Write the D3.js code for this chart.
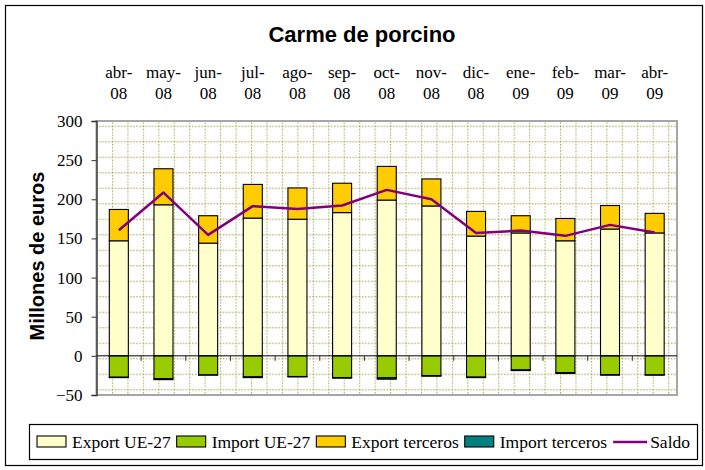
<!DOCTYPE html>
<html>
<head>
<meta charset="utf-8">
<script src="https://cdn.jsdelivr.net/npm/d3@7"></script>
<style>
  body { margin: 0; background: #fff; }
  #chart { width: 705px; height: 470px; }
</style>
</head>
<body>
<div id="chart"></div>
<script>
// values (millones de euros)
const months = ["abr-08", "may-08", "jun-08", "jul-08", "ago-08", "sep-08", "oct-08",
                "nov-08", "dic-08", "ene-09", "feb-09", "mar-09", "abr-09"];
const exportUE = [147, 193, 144, 176, 174.5, 183, 199, 191.5, 153, 157, 147, 162, 157];
const importUE = [-27.3, -29, -24.3, -26.8, -26.4, -27.7, -28.1, -25.2, -27.2, -18, -21.3, -23.9, -24.3];
const exportTerceros = [40, 46, 35, 43, 40, 37.5, 43, 34.5, 31.5, 22, 28.5, 30, 25];
const importTerceros = [-0.5, -1.4, -0.3, -1, -0.5, -0.8, -1.7, -0.8, -0.6, -0.8, -1.2, -0.8, -0.3];
const saldo = [160.5, 208.6, 154.5, 191.2, 187.7, 192, 212, 200, 157, 160, 153.3, 167.3, 157.5];
const yTicks = [-50, 0, 50, 100, 150, 200, 250, 300];

const series = [
  { key: "Export UE-27", values: exportUE, color: "#ffffcc" },
  { key: "Import UE-27", values: importUE, color: "#99cc00" },
  { key: "Export terceros", values: exportTerceros, color: "#ffcc00" },
  { key: "Import terceros", values: importTerceros, color: "#008080" }
];

const serif = "'Liberation Serif', 'Times New Roman', Times, serif";
const sans = "Arial, 'Liberation Sans', sans-serif";

const width = 705, height = 470;
const plot = { left: 96.5, right: 677, top: 121, bottom: 395 };

const svg = d3.select("#chart").append("svg")
  .attr("width", width)
  .attr("height", height);

// outer chart frame
svg.append("rect")
  .attr("x", 5.5).attr("y", 5.5)
  .attr("width", 697).attr("height", 460)
  .attr("fill", "#fff")
  .attr("stroke", "#000")
  .attr("stroke-width", 1.2);

svg.append("text")
  .attr("x", 362).attr("y", 42)
  .attr("text-anchor", "middle")
  .attr("font-family", sans)
  .attr("font-weight", "bold")
  .attr("font-size", 22)
  .text("Carme de porcino");

// dotted background pattern of the plot area
const defs = svg.append("defs");
const pat = defs.append("pattern")
  .attr("id", "grid")
  .attr("patternUnits", "userSpaceOnUse")
  .attr("x", plot.left).attr("y", 110.2)
  .attr("width", 15.45).attr("height", 15.5);
pat.append("rect").attr("width", 15.45).attr("height", 15.5).attr("fill", "#fff");
pat.append("line")
  .attr("x1", 0).attr("x2", 15.45).attr("y1", 0.5).attr("y2", 0.5)
  .attr("stroke", "#a3a34a").attr("stroke-width", 1.2).attr("stroke-dasharray", "1.3,1.7");
pat.append("line")
  .attr("x1", 0.5).attr("x2", 0.5).attr("y1", 0).attr("y2", 15.5)
  .attr("stroke", "#a3a34a").attr("stroke-width", 1.2).attr("stroke-dasharray", "1.3,1.7");

svg.append("rect")
  .attr("x", plot.left).attr("y", plot.top)
  .attr("width", plot.right - plot.left).attr("height", plot.bottom - plot.top)
  .attr("fill", "url(#grid)")
  .attr("stroke", "#a6a6a6")
  .attr("stroke-width", 2);

const x = d3.scaleBand()
  .domain(months)
  .range([plot.left, plot.right])
  .paddingInner(0.574)
  .paddingOuter(0.287);

const y = d3.scaleLinear()
  .domain([-50, 300])
  .range([plot.bottom, plot.top]);

// stacked bars (positives up, negatives down)
const table = months.map((m, i) => {
  const row = { month: m };
  series.forEach(s => { row[s.key] = s.values[i]; });
  return row;
});
const stacked = d3.stack()
  .keys(series.map(s => s.key))
  .offset(d3.stackOffsetDiverging)(table);

svg.append("g").selectAll("g")
  .data(stacked)
  .join("g")
  .attr("fill", (d, i) => series[i].color)
  .selectAll("rect")
  .data(d => d)
  .join("rect")
  .attr("x", d => x(d.data.month))
  .attr("y", d => y(Math.max(d[0], d[1])))
  .attr("width", x.bandwidth())
  .attr("height", d => Math.abs(y(d[0]) - y(d[1])))
  .attr("stroke", "#000")
  .attr("stroke-width", 1.1);

// zero line with category ticks
const zero = svg.append("g").attr("transform", "translate(0," + y(0) + ")");
zero.append("line")
  .attr("x1", plot.left).attr("x2", plot.right)
  .attr("stroke", "#000").attr("stroke-width", 1);
zero.selectAll("line.tick")
  .data(months.slice(1))
  .join("line")
  .attr("class", "tick")
  .attr("x1", d => x(d) - x.step() * x.paddingInner() / 2)
  .attr("x2", d => x(d) - x.step() * x.paddingInner() / 2)
  .attr("y1", 0).attr("y2", 5)
  .attr("stroke", "#333");

// y axis
const yAxis = d3.axisLeft(y)
  .tickValues(yTicks)
  .tickSize(5)
  .tickPadding(9);
const gy = svg.append("g")
  .attr("transform", "translate(" + plot.left + ",0)")
  .call(yAxis)
  .attr("font-family", serif)
  .attr("font-size", 17);
gy.select(".domain").attr("stroke", "#333").attr("stroke-width", 1.3);
gy.selectAll(".tick line").attr("stroke", "#333");
gy.selectAll("text").attr("fill", "#000");

svg.append("text")
  .attr("transform", "translate(44,256) rotate(-90)")
  .attr("text-anchor", "middle")
  .attr("font-family", sans)
  .attr("font-weight", "bold")
  .attr("font-size", 20)
  .text("Millones de euros");

// month labels above the plot
const labels = svg.append("g")
  .attr("font-family", serif)
  .attr("font-size", 17)
  .attr("text-anchor", "middle");
labels.selectAll("text")
  .data(months)
  .join("text")
  .attr("y", 78)
  .each(function (d) {
    const parts = d.split("-");
    const cx = x(d) + x.bandwidth() / 2;
    const t = d3.select(this);
    t.append("tspan").attr("x", cx).text(parts[0] + "-");
    t.append("tspan").attr("x", cx).attr("dy", 21).text(parts[1]);
  });

// saldo line
const line = d3.line()
  .x((d, i) => x(months[i]) + x.bandwidth() / 2)
  .y(d => y(d));
svg.append("path")
  .datum(saldo)
  .attr("fill", "none")
  .attr("stroke", "#800080")
  .attr("stroke-width", 2.5)
  .attr("stroke-linejoin", "round")
  .attr("d", line);

// legend
const legend = svg.append("g");
legend.append("rect")
  .attr("x", 29.5).attr("y", 424.5)
  .attr("width", 668).attr("height", 35)
  .attr("fill", "#fff")
  .attr("stroke", "#000")
  .attr("stroke-width", 1.2);

const items = series.map(s => ({ key: s.key, color: s.color, type: "rect" }))
  .concat([{ key: "Saldo", color: "#800080", type: "line" }]);
let lx = 37;
const ly = 442;
items.forEach(it => {
  if (it.type === "rect") {
    legend.append("rect")
      .attr("x", lx).attr("y", ly - 6)
      .attr("width", 29).attr("height", 11)
      .attr("fill", it.color)
      .attr("stroke", "#000").attr("stroke-width", 1.1);
  } else {
    legend.append("line")
      .attr("x1", lx).attr("x2", lx + 34)
      .attr("y1", ly).attr("y2", ly)
      .attr("stroke", it.color).attr("stroke-width", 2.5);
  }
  const t = legend.append("text")
    .attr("x", lx + (it.type === "rect" ? 35 : 37))
    .attr("y", ly + 6)
    .attr("font-family", serif)
    .attr("font-size", 17.5)
    .text(it.key);
  lx += (it.type === "rect" ? 35 : 37) + t.node().getComputedTextLength() + 6;
});
</script>
</body>
</html>
